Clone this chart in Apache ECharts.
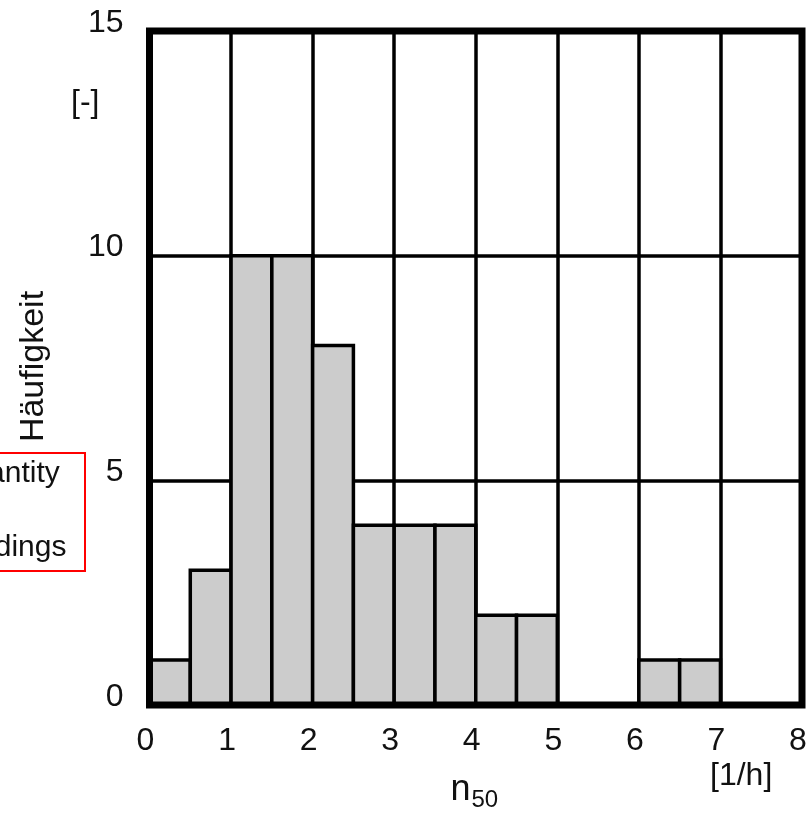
<!DOCTYPE html>
<html>
<head>
<meta charset="utf-8">
<script src="https://cdn.jsdelivr.net/npm/echarts@6/dist/echarts.min.js"></script>
<style>
html,body{margin:0;padding:0;background:#fff;}
#main{width:806px;height:813px;}
</style>
</head>
<body>
<div id="main"></div>
<script>
// Histogram bins (n50 in 1/h) and frequencies
const binLeft  = [0, 0.5, 1, 1.5, 2, 2.5, 3, 3.5, 4, 4.5, 5, 5.5, 6, 6.5, 7, 7.5];
const binRight = [0.5, 1, 1.5, 2, 2.5, 3, 3.5, 4, 4.5, 5, 5.5, 6, 6.5, 7, 7.5, 8];
const counts   = [1, 3, 10, 10, 8, 4, 4, 4, 2, 2, 0, 0, 1, 1, 0, 0];
const xTicks = [0, 1, 2, 3, 4, 5, 6, 7, 8];
const yTicks = [0, 5, 10, 15];
const yTitle = 'Häufigkeit';
const yUnit = '[-]';
const xUnit = '[1/h]';
const xTitleMain = 'n';
const xTitleSub = '50';
const noteText = 'Quantity\nof\nbuildings';

const FONT = "'Liberation Sans', Arial, sans-serif";
const chart = echarts.init(document.getElementById('main'), null, {renderer: 'canvas'});

const histData = binLeft.map((l, i) => [l, binRight[i], counts[i]]);

chart.setOption({
  animation: false,
  backgroundColor: '#ffffff',
  grid: {
    show: true, z: 10,
    left: 149.5, right: 4, top: 31, bottom: 108,
    containLabel: false, outerBoundsMode: 'none',
    borderColor: '#000', borderWidth: 7,
    backgroundColor: 'transparent'
  },
  xAxis: {
    type: 'value',
    min: xTicks[0], max: xTicks[xTicks.length - 1], interval: 1,
    axisLine: {show: false}, axisTick: {show: false},
    splitLine: {show: true, lineStyle: {color: '#000', width: 3.5}},
    axisLabel: {
      show: true, margin: 20, color: '#111', fontSize: 32, fontFamily: FONT,
      lineHeight: 32, padding: [0, 8, 0, 0], showMaxLabel: true, showMinLabel: true
    }
  },
  yAxis: {
    type: 'value',
    min: yTicks[0], max: yTicks[yTicks.length - 1], interval: 5,
    axisLine: {show: false}, axisTick: {show: false},
    splitLine: {show: true, lineStyle: {color: '#000', width: 3.5}},
    axisLabel: {
      show: true, margin: 26, color: '#111', fontSize: 32, fontFamily: FONT,
      verticalAlign: 'bottom', lineHeight: 16, showMaxLabel: true, showMinLabel: true
    }
  },
  series: [{
    type: 'custom',
    data: histData,
    encode: {x: [0, 1], y: 2},
    renderItem: function (params, api) {
      const v = api.value(2);
      if (!v) return null;
      const p0 = api.coord([api.value(0), v]);
      const p1 = api.coord([api.value(1), 0]);
      return {
        type: 'rect',
        shape: {x: p0[0], y: p0[1], width: p1[0] - p0[0], height: p1[1] - p0[1]},
        style: {fill: '#cccccc', stroke: '#000', lineWidth: 3.5}
      };
    }
  }],
  graphic: [
    {type: 'text', x: 71, y: 103, style: {text: yUnit, font: '32px ' + FONT, fill: '#111', textAlign: 'left', textVerticalAlign: 'middle'}},
    {type: 'text', x: 710, y: 776, style: {text: xUnit, font: '32px ' + FONT, fill: '#111', textAlign: 'left', textVerticalAlign: 'middle'}},
    {type: 'text', x: 450.5, y: 790, style: {text: xTitleMain, font: '36px ' + FONT, fill: '#111', textAlign: 'left', textVerticalAlign: 'middle'}},
    {type: 'text', x: 471.5, y: 800, style: {text: xTitleSub, font: '24px ' + FONT, fill: '#111', textAlign: 'left', textVerticalAlign: 'middle'}},
    {type: 'text', x: 34, y: 366.5, rotation: Math.PI / 2, style: {text: yTitle, font: '34px ' + FONT, fill: '#111', textAlign: 'center', textVerticalAlign: 'middle'}},
    {type: 'rect', shape: {x: -20, y: 453, width: 105, height: 118}, style: {fill: '#fff', stroke: '#ff0000', lineWidth: 2}},
    {type: 'text', x: -52, y: 455, style: {text: noteText, font: '30px ' + FONT, fill: '#111', textAlign: 'left', textVerticalAlign: 'top', lineHeight: 37}}
  ]
});
</script>
</body>
</html>
